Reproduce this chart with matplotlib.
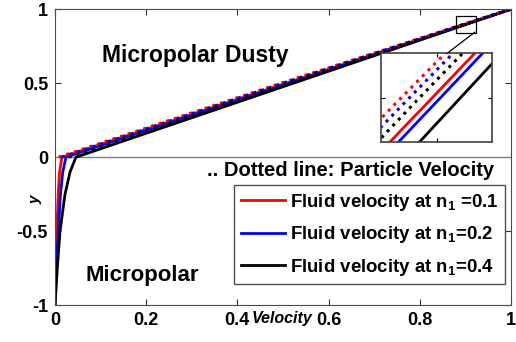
import matplotlib.pyplot as plt
from matplotlib.patches import Rectangle, ConnectionPatch

plt.rcParams['font.family'] = ['Liberation Sans', 'DejaVu Sans']
plt.rcParams['font.weight'] = 'bold'
plt.rcParams['mathtext.fontset'] = 'custom'
plt.rcParams['mathtext.rm'] = 'Liberation Sans:bold'
plt.rcParams['mathtext.default'] = 'rm'

# fluid velocity profiles (velocity vs y)
y_fluid = [-1, -0.75, -0.5, -0.25, -0.1, 0, 0.5, 0.9, 1]
u_fluid_01 = [0, 0.002, 0.004, 0.007, 0.010, 0.015, 0.5075, 0.9015, 1]
u_fluid_02 = [0, 0.003, 0.007, 0.012, 0.017, 0.024, 0.512, 0.9024, 1]
u_fluid_04 = [0, 0.005, 0.011, 0.022, 0.033, 0.046, 0.523, 0.9046, 1]

# particle velocity profiles (dotted)
y_part = [0, 0.5, 0.9, 1]
u_part_01 = [0.008, 0.496, 0.8981, 1]
u_part_02 = [0.014, 0.500, 0.8990, 1]
u_part_04 = [0.030, 0.508, 0.9001, 1]

labels = ['Fluid velocity at n$_1$ =0.1',
          'Fluid velocity at n$_1$=0.2',
          'Fluid velocity at n$_1$=0.4']
colors = ['red', 'blue', 'black']
x_ticks = [0, 0.2, 0.4, 0.6, 0.8, 1]
x_ticklabels = ['0', '0.2', '0.4', '0.6', '0.8', '1']
y_ticks = [-1, -0.5, 0, 0.5, 1]
y_ticklabels = ['-1', '-0.5', '0', '0.5', '1']

fluid = [u_fluid_01, u_fluid_02, u_fluid_04]
part = [u_part_01, u_part_02, u_part_04]


def draw_lines(ax, with_labels):
    handles = []
    for u, c, lab in zip(fluid, colors, labels):
        h, = ax.plot(u, y_fluid, color=c, lw=2, label=lab if with_labels else None)
        handles.append(h)
    for u, c in zip(part, colors):
        ax.plot(u, y_part, color=c, lw=2.2, linestyle=':')
    return handles


fig = plt.figure(figsize=(5.16, 3.42), dpi=100)
ax = fig.add_axes([0.1066, 0.108, 0.8834, 0.865])

ax.axhline(0, color='0.5', lw=1)
handles = draw_lines(ax, True)

ax.set_xlim(0, 1)
ax.set_ylim(-1, 1)
ax.set_xticks(x_ticks)
ax.set_xticklabels(x_ticklabels)
ax.set_yticks(y_ticks)
ax.set_yticklabels(y_ticklabels)
ax.tick_params(direction='in', length=4, width=0.8, top=True, right=True,
               labelsize=13, color='0.2', pad=5)
for lab in ax.get_xticklabels() + ax.get_yticklabels():
    lab.set_fontweight('bold')
for sp in ax.spines.values():
    sp.set_color('0.3')
    sp.set_linewidth(0.8)

ax.text(0.497, -0.02, 'Velocity', transform=ax.transAxes, ha='center', va='top',
        fontsize=11.5, fontstyle='italic', fontweight='bold')
ax.text(-0.043, 0.355, 'y', transform=ax.transAxes, ha='center', va='center',
        rotation=90, fontsize=11, fontstyle='italic', fontweight='bold')

ax.text(0.103, 0.69, 'Micropolar Dusty', fontsize=16.5, fontweight='bold',
        ha='left', va='center')
ax.text(0.066, -0.797, 'Micropolar', fontsize=16, fontweight='bold',
        ha='left', va='center')
ax.text(0.963, -0.09, '.. Dotted line: Particle Velocity', fontsize=14.5,
        fontweight='bold', ha='right', va='center')

leg = ax.legend(handles=handles, loc='upper right', bbox_to_anchor=(0.987, 0.405),
                borderaxespad=0, fontsize=13.4, handlelength=2.4, handletextpad=0.25,
                labelspacing=0.62, borderpad=0.35, fancybox=False, framealpha=1,
                edgecolor='0.3')
leg.get_frame().set_linewidth(1)
for t in leg.get_texts():
    t.set_fontweight('bold')

# zoom marker box on the main axes
ax.add_patch(Rectangle((0.879, 0.838), 0.044, 0.115, fill=False,
                       edgecolor='black', lw=0.9, zorder=5))

# inset
axin = fig.add_axes([0.7384, 0.5848, 0.2151, 0.2602])
draw_lines(axin, False)
axin.set_xlim(0.8956, 0.9078)
axin.set_ylim(0.895, 0.9045)
axin.set_xticks([0.9017])
axin.set_yticks([0.89975])
axin.set_xticklabels([])
axin.set_yticklabels([])
axin.tick_params(direction='in', length=3, width=0.8, top=True, right=True)
for sp in axin.spines.values():
    sp.set_color('0.25')
    sp.set_linewidth(1.2)

con = ConnectionPatch(xyA=(0.921, 0.845), coordsA=ax.transData,
                      xyB=(0.60, 1.0), coordsB=axin.transAxes,
                      color='black', lw=0.9)
fig.add_artist(con)

fig.savefig('out.png', dpi=100)
